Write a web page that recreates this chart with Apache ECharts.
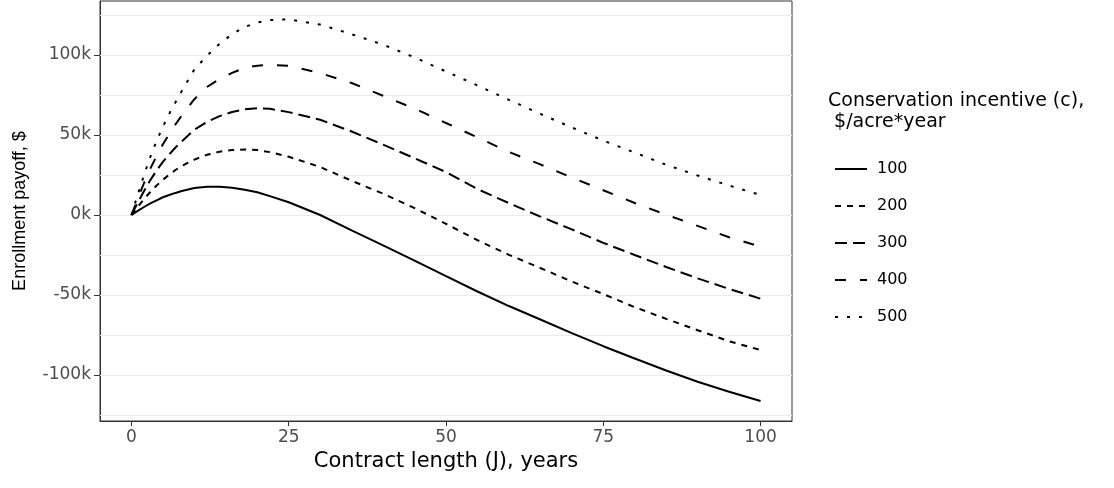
<!DOCTYPE html>
<html>
<head>
<meta charset="utf-8">
<script src="https://cdn.jsdelivr.net/npm/echarts@6/dist/echarts.min.js"></script>
<style>
html, body { margin: 0; padding: 0; background: #fff; }
#chart { width: 1114px; height: 488px; }
</style>
</head>
<body>
<div id="chart"></div>
<script>
// contract length, years
var years = [0, 1, 2, 3, 4, 5, 6, 7, 8, 10, 12, 14, 16, 18, 20, 22, 25, 30, 35, 40, 45, 50, 55, 60, 65, 70, 75, 80, 85, 90, 95, 100];
// enrollment payoff in thousands of $, one array per incentive level
var pay100 = [0, 2.6, 5, 7.2, 9.2, 11.1, 12.5, 13.8, 15, 16.9, 17.6, 17.6, 17, 15.8, 14.2, 11.8, 8, 0, -9.6, -19, -28.5, -38.2, -47.8, -56.9, -65.3, -73.8, -82, -89.7, -97.2, -104.2, -110.5, -116.2];
var pay200 = [0, 5.1, 10, 14.4, 18.4, 22, 25.2, 28.1, 30.7, 34.6, 37.6, 39.6, 40.6, 41, 40.6, 39.3, 36.4, 30, 21.4, 13.3, 4.3, -5.5, -15.7, -24.9, -33.1, -41.6, -49.4, -57.6, -64.9, -72, -78.9, -84.4];
var pay300 = [0, 7.7, 15, 21.8, 27.8, 33.2, 37.8, 42.2, 46, 53.4, 58.2, 61.8, 64.4, 66, 66.8, 66.4, 64.3, 59.5, 52.2, 44, 35.5, 26.8, 16.2, 7.4, -1, -9, -17.4, -25, -32.5, -39.6, -46.2, -52.3];
var pay400 = [0, 10.2, 20, 29, 37, 44.2, 50.5, 56.6, 62.2, 72.4, 80, 85, 88.8, 92, 93.3, 93.8, 93.3, 88.7, 82.5, 74.5, 66.5, 57.5, 48.5, 39.4, 31.6, 23.4, 15.5, 7.5, 0.2, -6.8, -13.9, -19.8];
var pay500 = [0, 12.8, 25, 36.3, 46.3, 55.2, 63.2, 70.5, 77.5, 91, 99.5, 107, 113, 117.5, 120.3, 121.8, 122.3, 119, 113, 106.5, 98.5, 89.7, 81, 72, 63.2, 54.7, 46.5, 39, 31.4, 24.7, 18.4, 12.5];

var levels = ['100', '200', '300', '400', '500'];
var xTicks = [0, 25, 50, 75, 100];
var yTicks = [-100, -50, 0, 50, 100];
var yGrid = [-125, -100, -75, -50, -25, 0, 25, 50, 75, 100, 125];

var FONT = 'DejaVu Sans, sans-serif';
var FONT_NARROW = 'Liberation Sans, Arial, sans-serif';
var chart = echarts.init(document.getElementById('chart'));

function pairs(vals) {
	return years.map(function (x, i) { return [x, vals[i]]; });
}

// ggplot style line types
var dashes = ['solid', [6, 6], [12, 6], [11, 14], [3, 9]];
var allPay = [pay100, pay200, pay300, pay400, pay500];

var series = levels.map(function (name, i) {
	return {
		name: name,
		type: 'line',
		symbol: 'none',
		z: 3,
		lineStyle: { color: '#000', width: 2, type: dashes[i] },
		itemStyle: { color: '#000' },
		data: pairs(allPay[i])
	};
});
// light horizontal grid lines, major and minor
series.unshift({
	name: 'grid',
	type: 'line',
	data: [],
	silent: true,
	z: 1,
	markLine: {
		z: 1,
		silent: true,
		animation: false,
		symbol: ['none', 'none'],
		label: { show: false },
		lineStyle: { color: '#EBEBEB', width: 1, type: 'solid' },
		data: yGrid.map(function (v) { return { yAxis: v }; })
	}
});

chart.setOption({
	animation: false,
	title: {
		text: 'Conservation incentive (c),\n $/acre*year',
		left: 823,
		top: 86,
		textStyle: { fontFamily: FONT, fontSize: 19, fontWeight: 'normal', color: '#000', lineHeight: 21 }
	},
	legend: {
		data: levels,
		orient: 'vertical',
		left: 829,
		top: 156,
		itemWidth: 32,
		itemHeight: 16,
		itemGap: 21,
		itemStyle: { opacity: 0 },
		textStyle: { fontFamily: FONT, fontSize: 16, color: '#000', padding: [0, 0, 0, 5] }
	},
	grid: {
		left: 100, right: 322, top: 1, bottom: 67,
		show: true, borderColor: '#333', borderWidth: 1
	},
	xAxis: {
		type: 'value',
		min: -5, max: 105,
		name: 'Contract length (J), years',
		nameLocation: 'middle',
		nameGap: 30,
		nameTextStyle: { fontFamily: FONT, fontSize: 21, color: '#000' },
		axisLine: { show: true, onZero: false, lineStyle: { color: '#333', width: 1 } },
		axisTick: { show: true, length: 5, customValues: xTicks, lineStyle: { color: '#333' } },
		axisLabel: { customValues: xTicks, margin: 8, fontFamily: FONT, fontSize: 17, color: '#4D4D4D' },
		splitLine: { show: false }
	},
	yAxis: {
		type: 'value',
		min: -128.75, max: 133.75,
		name: 'Enrollment payoff, $',
		nameLocation: 'middle',
		nameGap: 71,
		nameTextStyle: { fontFamily: FONT_NARROW, fontSize: 18, color: '#000' },
		axisLine: { show: true, onZero: false, lineStyle: { color: '#333', width: 1 } },
		axisTick: { show: true, length: 6, customValues: yTicks, lineStyle: { color: '#333' } },
		axisLabel: {
			customValues: yTicks, margin: 9, fontFamily: FONT, fontSize: 17, color: '#4D4D4D',
			formatter: function (v) { return v + 'k'; }
		},
		splitLine: { show: false }
	},
	series: series
});
</script>
</body>
</html>
